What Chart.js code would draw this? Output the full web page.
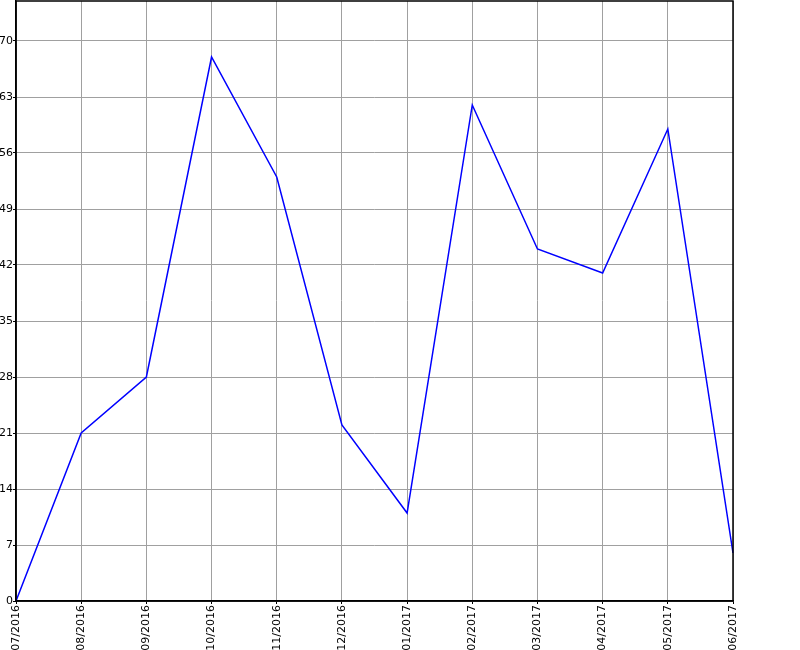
<!DOCTYPE html>
<html>
<head>
<meta charset="utf-8">
<script src="https://cdn.jsdelivr.net/npm/chart.js@4"></script>
<style>
  html, body { margin: 0; padding: 0; background: #ffffff; }
  #wrap { width: 800px; height: 650px; }
</style>
</head>
<body>
<div id="wrap"><canvas id="chart" width="800" height="650"></canvas></div>
<script>
//months on the x axis
var monthLabels = ["07/2016", "08/2016", "09/2016", "10/2016", "11/2016", "12/2016",
    "01/2017", "02/2017", "03/2017", "04/2017", "05/2017", "06/2017"];
//values per month
var monthValues = [0, 21, 28, 68, 53, 22, 11, 62, 44, 41, 59, 6];
//y axis range
var yMin = 0;
var yMax = 75;
var yStep = 7;

//draws the black frame round the plot
var framePlugin = {
    id: 'frame',
    afterDraw: function (chart) {
        var a = chart.chartArea;
        var ctx = chart.ctx;
        ctx.save();
        ctx.strokeStyle = '#000000';
        ctx.lineWidth = 1.5;
        ctx.strokeRect(a.left, a.top, a.right - a.left, a.bottom - a.top);
        ctx.restore();
    }
};

var whiteBg = {
    id: 'whiteBg',
    beforeDraw: function (chart) {
        var ctx = chart.ctx;
        ctx.save();
        ctx.fillStyle = '#ffffff';
        ctx.fillRect(0, 0, chart.width, chart.height);
        ctx.restore();
    }
};

var tickFont = { family: 'DejaVu Sans', size: 11 };

new Chart(document.getElementById('chart'), {
    type: 'line',
    data: {
        labels: monthLabels,
        datasets: [{
            data: monthValues,
            borderColor: '#0000ff',
            borderWidth: 1.5,
            pointRadius: 0,
            tension: 0,
            fill: false
        }]
    },
    options: {
        responsive: false,
        animation: false,
        layout: { padding: { top: 1, right: 67, left: 0, bottom: 0 } },
        plugins: {
            legend: { display: false },
            tooltip: { enabled: false }
        },
        scales: {
            x: {
                offset: false,
                grid: { color: '#a0a0a0', lineWidth: 1, tickLength: 3, tickColor: '#000000' },
                border: { color: '#000000', width: 1.5 },
                ticks: {
                    color: '#000000',
                    font: tickFont,
                    minRotation: 90,
                    maxRotation: 90,
                    autoSkip: false,
                    padding: 1
                },
                afterFit: function (scale) {
                    scale.height = 49;
                    scale.paddingLeft = 0;
                    scale.paddingRight = 0;
                }
            },
            y: {
                min: yMin,
                max: yMax,
                grid: { color: '#a0a0a0', lineWidth: 1, tickLength: 3, tickColor: '#000000' },
                border: { color: '#000000', width: 1.5 },
                ticks: {
                    color: '#000000',
                    font: tickFont,
                    stepSize: yStep,
                    padding: 0
                },
                afterBuildTicks: function (scale) {
                    scale.ticks = scale.ticks.filter(function (t) { return t.value % yStep === 0; });
                },
                afterFit: function (scale) {
                    scale.width = 16;
                    scale.paddingTop = 0;
                    scale.paddingBottom = 0;
                }
            }
        }
    },
    plugins: [whiteBg, framePlugin]
});
</script>
</body>
</html>
